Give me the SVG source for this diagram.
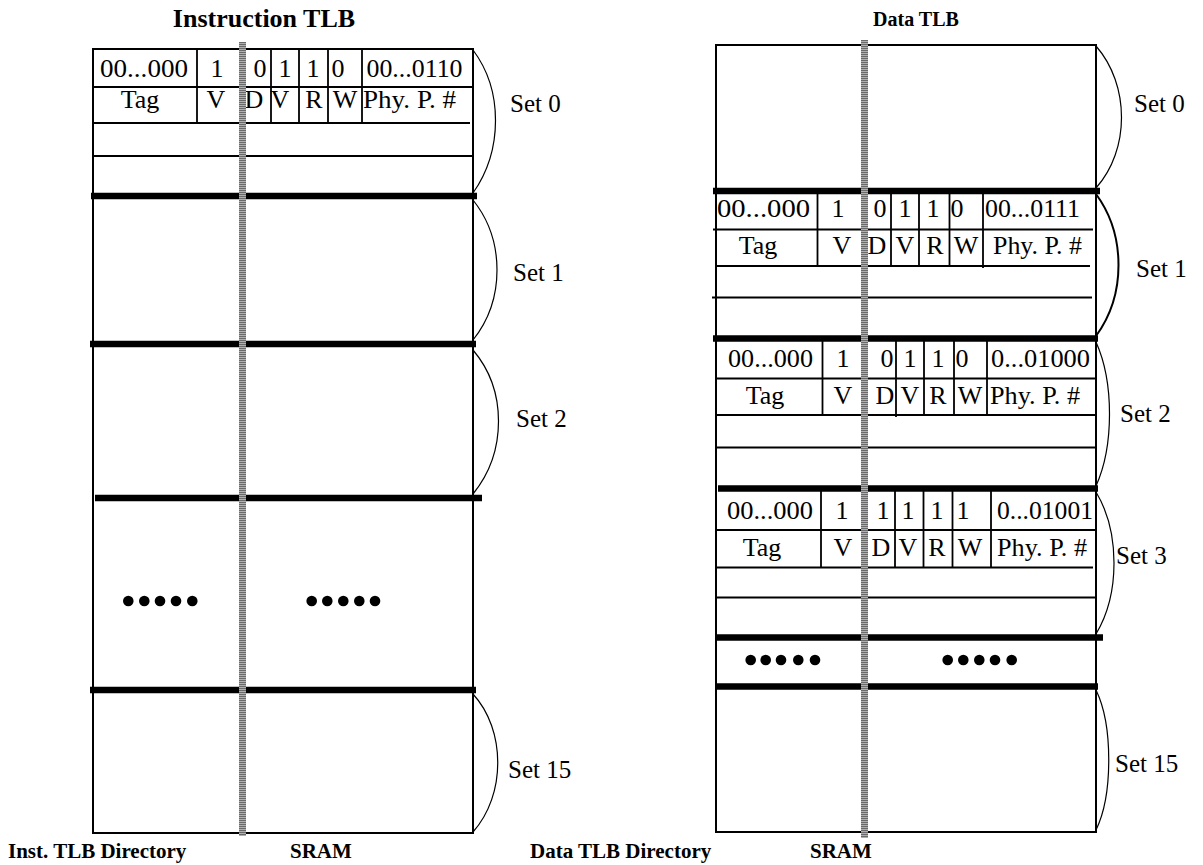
<svg xmlns="http://www.w3.org/2000/svg" width="1203" height="865" viewBox="0 0 1203 865">
<style>
text{font-family:"Liberation Serif","Times New Roman",serif;fill:#000}
.t{font-size:26px}
.m{text-anchor:middle}
.lbl{font-size:25px}
.title{font-weight:bold}
.border{fill:none;stroke:#000;stroke-width:2}
.row{stroke:#000;stroke-width:1.8}
.col{stroke:#000;stroke-width:1.8}
.thick{stroke:#000;stroke-width:6.5}
.brace{fill:none;stroke:#000;stroke-width:1.2}
.dot{fill:#000}
</style>
<defs>
<pattern id="stripe" patternUnits="userSpaceOnUse" width="8" height="2">
<rect x="0" y="0" width="8" height="1" fill="#6a6a6a"/>
<rect x="0" y="1" width="8" height="1" fill="#b0b0b0"/>
</pattern>
</defs>
<rect width="1203" height="865" fill="#fff"/>

<text class="title m" x="264" y="27" style="font-size:26px">Instruction TLB</text>
<text class="title m" x="916" y="26" style="font-size:20px">Data TLB</text>

<!-- LEFT TABLE -->
<g id="inst-tlb">
<rect class="border" x="93" y="49" width="380" height="784"/>
<g id="inst-set0">
<line class="row" x1="93" y1="87" x2="473" y2="87"/>
<line class="row" x1="93" y1="123" x2="470" y2="123"/>
<line class="row" x1="93" y1="156" x2="473" y2="156"/>
<line class="col" x1="197" y1="49" x2="197" y2="124"/>
<line class="col" x1="271" y1="49" x2="271" y2="124"/>
<line class="col" x1="299" y1="49" x2="299" y2="124"/>
<line class="col" x1="328" y1="49" x2="328" y2="124"/>
<line class="col" x1="362" y1="49" x2="362" y2="124"/>
<text class="t" x="100" y="77" textLength="88" lengthAdjust="spacingAndGlyphs">00...000</text>
<text class="t m" x="217" y="77">1</text>
<text class="t m" x="260" y="77">0</text>
<text class="t m" x="285" y="77">1</text>
<text class="t m" x="313" y="77">1</text>
<text class="t m" x="338" y="77">0</text>
<text class="t" x="366.5" y="77" textLength="96" lengthAdjust="spacingAndGlyphs">00...0110</text>
<text class="t m" x="140" y="108">Tag</text>
<text class="t m" x="216" y="108">V</text>
<text class="t m" x="254" y="108">D</text>
<text class="t m" x="280" y="108">V</text>
<text class="t m" x="314" y="108">R</text>
<text class="t m" x="345" y="108">W</text>
<text class="t" x="363" y="108" textLength="93" lengthAdjust="spacingAndGlyphs">Phy. P. #</text>
</g>
<line class="thick" x1="91" y1="196" x2="477" y2="196"/>
<line class="thick" x1="90" y1="344" x2="476" y2="344"/>
<line class="thick" x1="95" y1="498" x2="482" y2="498"/>
<line class="thick" x1="90" y1="690" x2="476" y2="690"/>
<g id="inst-dots">
<circle class="dot" cx="128.3" cy="601" r="5.3"/>
<circle class="dot" cx="144.3" cy="601" r="5.3"/>
<circle class="dot" cx="160" cy="601" r="5.3"/>
<circle class="dot" cx="176" cy="601" r="5.3"/>
<circle class="dot" cx="192.3" cy="601" r="5.3"/>
<circle class="dot" cx="311.7" cy="601" r="5.3"/>
<circle class="dot" cx="327.3" cy="601" r="5.3"/>
<circle class="dot" cx="343.3" cy="601" r="5.3"/>
<circle class="dot" cx="359.3" cy="601" r="5.3"/>
<circle class="dot" cx="375" cy="601" r="5.3"/>
</g>
<rect x="239" y="42" width="7" height="794" fill="url(#stripe)"/>
</g>

<!-- RIGHT TABLE -->
<g id="data-tlb">
<rect class="border" x="716" y="45" width="380" height="787"/>
<g id="data-set1">
<line class="row" x1="713" y1="229.5" x2="1093" y2="229.5"/>
<line class="row" x1="715" y1="266" x2="1090" y2="266"/>
<line class="row" x1="712" y1="297.5" x2="1092" y2="297.5"/>
<line class="col" x1="817.5" y1="191" x2="817.5" y2="266"/>
<line class="col" x1="891" y1="191" x2="891" y2="266"/>
<line class="col" x1="919" y1="191" x2="919" y2="266"/>
<line class="col" x1="949.5" y1="191" x2="949.5" y2="266"/>
<line class="col" x1="983" y1="191" x2="983" y2="268"/>
<text class="t" x="717" y="217" textLength="93" lengthAdjust="spacingAndGlyphs">00...000</text>
<text class="t m" x="838" y="217">1</text>
<text class="t m" x="880" y="217">0</text>
<text class="t m" x="905" y="217">1</text>
<text class="t m" x="933" y="217">1</text>
<text class="t m" x="957" y="217">0</text>
<text class="t" x="985" y="217" textLength="95" lengthAdjust="spacingAndGlyphs">00...0111</text>
<text class="t m" x="758" y="254">Tag</text>
<text class="t m" x="842" y="254">V</text>
<text class="t m" x="877" y="254">D</text>
<text class="t m" x="905" y="254">V</text>
<text class="t m" x="935" y="254">R</text>
<text class="t m" x="966" y="254">W</text>
<text class="t" x="993" y="254" textLength="89" lengthAdjust="spacingAndGlyphs">Phy. P. #</text>
</g>
<g id="data-set2">
<line class="row" x1="716" y1="378.5" x2="1096" y2="378.5"/>
<line class="row" x1="716" y1="415" x2="1096" y2="415"/>
<line class="row" x1="716" y1="447.5" x2="1096" y2="447.5"/>
<line class="col" x1="822.5" y1="338" x2="822.5" y2="416"/>
<line class="col" x1="896" y1="338" x2="896" y2="417"/>
<line class="col" x1="924" y1="338" x2="924" y2="415"/>
<line class="col" x1="954" y1="338" x2="954" y2="415"/>
<line class="col" x1="987" y1="338" x2="987" y2="415"/>
<text class="t" x="728" y="367" textLength="85" lengthAdjust="spacingAndGlyphs">00...000</text>
<text class="t m" x="843" y="367">1</text>
<text class="t m" x="887" y="367">0</text>
<text class="t m" x="910" y="367">1</text>
<text class="t m" x="938" y="367">1</text>
<text class="t m" x="962" y="367">0</text>
<text class="t" x="991" y="367" textLength="99" lengthAdjust="spacingAndGlyphs">0...01000</text>
<text class="t m" x="765" y="404">Tag</text>
<text class="t m" x="843" y="404">V</text>
<text class="t m" x="885" y="404">D</text>
<text class="t m" x="910" y="404">V</text>
<text class="t m" x="938" y="404">R</text>
<text class="t m" x="970" y="404">W</text>
<text class="t" x="990" y="404" textLength="90" lengthAdjust="spacingAndGlyphs">Phy. P. #</text>
</g>
<g id="data-set3">
<line class="row" x1="716" y1="530" x2="1096" y2="530"/>
<line class="row" x1="716" y1="567.5" x2="1093" y2="567.5"/>
<line class="row" x1="716" y1="597.5" x2="1096" y2="597.5"/>
<line class="col" x1="821" y1="488" x2="821" y2="567"/>
<line class="col" x1="895" y1="488" x2="895" y2="567"/>
<line class="col" x1="923.5" y1="488" x2="923.5" y2="567"/>
<line class="col" x1="952.5" y1="488" x2="952.5" y2="567"/>
<line class="col" x1="991" y1="488" x2="991" y2="567"/>
<text class="t" x="727" y="519" textLength="86" lengthAdjust="spacingAndGlyphs">00...000</text>
<text class="t m" x="842" y="519">1</text>
<text class="t m" x="883" y="519">1</text>
<text class="t m" x="908" y="519">1</text>
<text class="t m" x="937" y="519">1</text>
<text class="t m" x="963" y="519">1</text>
<text class="t" x="997" y="519" textLength="96" lengthAdjust="spacingAndGlyphs">0...01001</text>
<text class="t m" x="762" y="556">Tag</text>
<text class="t m" x="843" y="556">V</text>
<text class="t m" x="881" y="556">D</text>
<text class="t m" x="908" y="556">V</text>
<text class="t m" x="937" y="556">R</text>
<text class="t m" x="970" y="556">W</text>
<text class="t" x="997" y="556" textLength="90" lengthAdjust="spacingAndGlyphs">Phy. P. #</text>
</g>
<line class="thick" x1="713" y1="191" x2="1100" y2="191"/>
<line class="thick" x1="713" y1="338.5" x2="1098" y2="338.5"/>
<line class="thick" x1="718" y1="488.5" x2="1098" y2="488.5"/>
<line class="thick" x1="715" y1="637.5" x2="1103" y2="637.5"/>
<line class="thick" x1="715" y1="686.5" x2="1098" y2="686.5"/>
<g id="data-dots">
<circle class="dot" cx="750.7" cy="660" r="5.3"/>
<circle class="dot" cx="765.7" cy="660" r="5.3"/>
<circle class="dot" cx="781" cy="660" r="5.3"/>
<circle class="dot" cx="798.3" cy="660" r="5.3"/>
<circle class="dot" cx="815" cy="660" r="5.3"/>
<circle class="dot" cx="947.7" cy="660" r="5.3"/>
<circle class="dot" cx="963.3" cy="660" r="5.3"/>
<circle class="dot" cx="979.3" cy="660" r="5.3"/>
<circle class="dot" cx="995" cy="660" r="5.3"/>
<circle class="dot" cx="1011.7" cy="660" r="5.3"/>
</g>
<rect x="861" y="40" width="7" height="798" fill="url(#stripe)"/>
</g>

<!-- BRACES -->
<g id="connectors">
<path class="brace" d="M473,50 C503,90 503,150 473,193"/>
<path class="brace" d="M473,200 C505,240 505,300 473,340"/>
<path class="brace" d="M473,350 C507,390 507,452 473,494"/>
<path class="brace" d="M473,694 C506,730 506,795 473,832"/>
<path class="brace" d="M1096,46 C1130,85 1130,150 1096,188"/>
<path class="brace" d="M1096,194 C1126,235 1126,295 1096,336" style="stroke-width:2"/>
<path class="brace" d="M1096,342 C1114,382 1114,446 1096,486"/>
<path class="brace" d="M1096,492 C1120,532 1120,594 1096,634"/>
<path class="brace" d="M1096,690 C1113,725 1113,795 1096,830"/>
</g>

<g id="set-labels">
<text class="lbl" x="510" y="112">Set 0</text>
<text class="lbl" x="513" y="281">Set 1</text>
<text class="lbl" x="516" y="427">Set 2</text>
<text class="lbl" x="508" y="778">Set 15</text>
<text class="lbl" x="1134" y="112">Set 0</text>
<text class="lbl" x="1136" y="277">Set 1</text>
<text class="lbl" x="1120" y="422">Set 2</text>
<text class="lbl" x="1116" y="564">Set 3</text>
<text class="lbl" x="1115" y="772">Set 15</text>
</g>

<g id="bottom-labels">
<text class="title" x="8" y="858" style="font-size:21px">Inst. TLB Directory</text>
<text class="title" x="290" y="858" style="font-size:21px">SRAM</text>
<text class="title" x="530" y="858" style="font-size:21px">Data TLB Directory</text>
<text class="title" x="810" y="858" style="font-size:21px">SRAM</text>
</g>
</svg>
